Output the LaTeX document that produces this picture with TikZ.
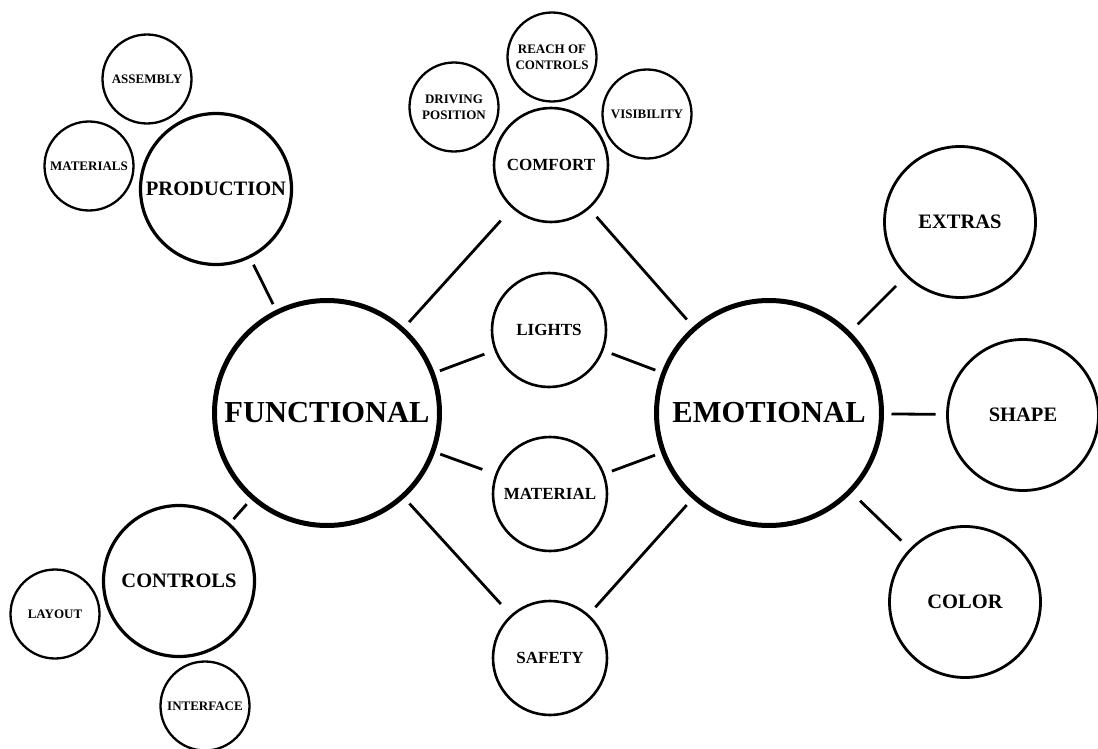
\documentclass[tikz,border=0pt]{standalone}
\usepackage{fontspec}
\setmainfont{Liberation Serif}
\begin{document}
\begin{tikzpicture}[x=1pt,y=-1pt,
  bubble/.style={circle,draw=black,fill=white,inner sep=0pt,outer sep=0pt,
                 align=center,font=\bfseries},
  hub/.style={bubble,line width=5pt,minimum size=225pt,
              font=\bfseries\fontsize{30.5}{36}\selectfont},
  group/.style={bubble,line width=3.2pt,minimum size=151pt,
                font=\bfseries\fontsize{20.5}{24}\selectfont},
  facet/.style={bubble,line width=2.8pt,minimum size=151pt,
                font=\bfseries\fontsize{20.5}{24}\selectfont},
  shared/.style={bubble,line width=2.6pt,minimum size=114pt,
                 font=\bfseries\fontsize{17}{20}\selectfont},
  detail/.style={bubble,line width=2.3pt,minimum size=89pt,
                 font=\bfseries\fontsize{13}{16}\selectfont},
  link/.style={line width=2.8pt}]
\useasboundingbox (0,0) rectangle (1098,749);

% central themes
\node[hub] (func) at (327,413) {FUNCTIONAL};
\node[hub] (emo)  at (769,413) {EMOTIONAL};

% aspects shared by both themes
\node[shared] (comfort)  at (551,165) {COMFORT};
\node[shared] (lights)   at (549,330) {LIGHTS};
\node[shared] (material) at (550,494) {MATERIAL};
\node[shared] (safety)   at (550,658) {SAFETY};

% functional branches
\node[group] (prod)     at (216,189) {PRODUCTION};
\node[group] (controls) at (179,581) {CONTROLS};

% emotional branches
\node[facet] (extras) at (960,222) {EXTRAS};
\node[facet] (shape)  at (1023,415) {SHAPE};
\node[facet] (color)  at (965,602) {COLOR};

% details
\node[detail] (assembly)   at (147,79)  {ASSEMBLY};
\node[detail] (materials)  at (89,166)  {MATERIALS};
\node[detail] (driving)    at (454,107) {DRIVING\\POSITION};
\node[detail] (reach)      at (552,57)  {REACH OF\\CONTROLS};
\node[detail] (visibility) at (647,114) {VISIBILITY};
\node[detail] (layout)     at (55,614)  {LAYOUT};
\node[detail] (interface)  at (205,706) {INTERFACE};

% connectors (short strokes floating between the circles)
\draw[link,shorten <=9pt,shorten >=9pt]  (prod) -- (func);
\draw[link,shorten <=7pt,shorten >=9pt]  (controls) -- (func);
\draw[link,shorten <=10pt,shorten >=18pt] (func) -- (comfort);
\draw[link,shorten <=8pt,shorten >=12pt] (func) -- (lights);
\draw[link,shorten <=8pt,shorten >=15pt] (func) -- (material);
\draw[link,shorten <=10pt,shorten >=16pt] (func) -- (safety);
\draw[link,shorten <=12pt,shorten >=12pt] (comfort) -- (emo);
\draw[link,shorten <=10pt,shorten >=9pt] (lights) -- (emo);
\draw[link,shorten <=9pt,shorten >=9pt]  (material) -- (emo);
\draw[link,shorten <=11pt,shorten >=11pt] (safety) -- (emo);
\draw[link,shorten <=13pt,shorten >=15pt] (emo) -- (extras);
\draw[link,shorten <=10pt,shorten >=12pt] (emo) -- (shape);
\draw[link,shorten <=14pt,shorten >=13pt] (emo) -- (color);
\end{tikzpicture}
\end{document}
